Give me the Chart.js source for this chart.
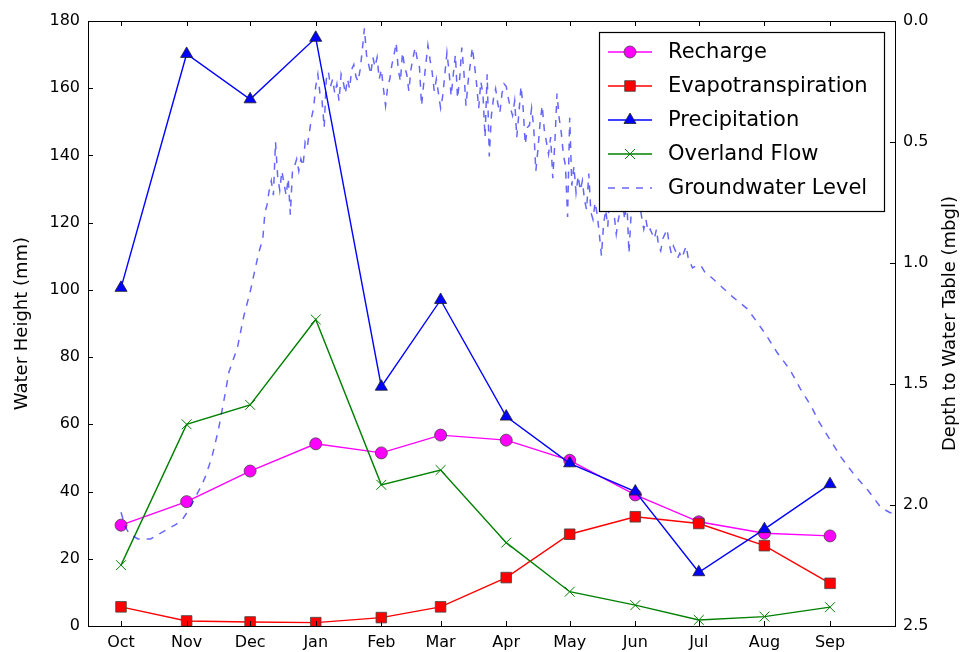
<!DOCTYPE html>
<html>
<head>
<meta charset="utf-8">
<script src="https://cdn.jsdelivr.net/npm/chart.js@4.4.1/dist/chart.umd.min.js"></script>
<style>
  body { margin: 0; background: #fff; }
  canvas { display: block; }
</style>
</head>
<body>
<canvas id="myChart" width="963" height="652"></canvas>
<script>
// monthly values, plotted at the first day of each month (days since 1 Oct)
var months = ['Oct', 'Nov', 'Dec', 'Jan', 'Feb', 'Mar', 'Apr', 'May', 'Jun', 'Jul', 'Aug', 'Sep']
var monthDay = [0, 31, 61, 92, 123, 151, 182, 212, 243, 273, 304, 335]

var recharge = [30, 37, 46.1, 54.2, 51.5, 56.8, 55.3, 49.3, 39.0, 31.0, 27.6, 26.8]
var evapotranspiration = [5.7, 1.5, 1.2, 1.0, 2.5, 5.7, 14.4, 27.3, 32.5, 30.5, 23.9, 12.7]
var precipitation = [100.6, 170.2, 156.7, 175, 71.2, 97, 62.3, 48.4, 40, 16, 28.8, 42.2]
var overlandFlow = [18.1, 60, 65.8, 91.2, 42, 46.4, 24.8, 10.2, 6.2, 1.8, 2.8, 5.6]

// daily groundwater depth (mbgl)
var gwDay = [0, 2, 4, 8, 14, 18, 22, 26, 29, 32, 35, 38, 40, 43, 46, 49, 51, 55, 58, 61, 63, 65, 67, 68, 69,
  70, 71, 72, 73, 74, 75, 76, 77, 78, 79, 80, 81, 82, 83, 84, 85, 86, 87, 88, 89,
  90, 91, 92, 93, 94, 95, 96, 97, 98, 99, 100, 101, 102, 103, 104, 105, 106, 107, 108, 109,
  110, 111, 112, 113, 114, 115, 116, 117, 118, 119, 120, 121, 122, 123, 124, 125, 126, 127, 128, 129,
  130, 131, 132, 133, 134, 135, 136, 137, 138, 139, 140, 141, 142, 143, 144, 145, 146, 147, 148, 149,
  150, 151, 152, 153, 154, 155, 156, 157, 158, 159, 160, 161, 162, 163, 164, 165, 166, 167, 168, 169,
  170, 171, 172, 173, 174, 175, 176, 177, 178, 179, 180, 181, 182, 183, 184, 185, 186, 187, 188, 189,
  190, 191, 192, 193, 194, 195, 196, 197, 198, 199, 200, 201, 202, 203, 204, 205, 206, 207, 208, 209,
  210, 211, 212, 213, 214, 215, 216, 217, 218, 219, 220, 221, 222, 223, 224, 225, 226, 227, 228, 229,
  230, 231, 232, 233, 234, 235, 236, 237, 238, 239, 240, 241, 242, 243, 244, 245, 246, 247, 248, 249,
  250, 251, 252, 253, 254, 255, 256, 257, 258, 259, 260, 261, 262, 263, 264, 265,
  267, 268, 270, 272, 274, 276, 279, 284, 289, 296, 301, 305, 310, 316, 321, 326, 330, 335, 340, 346, 353, 359, 363, 366]
var gwDepth = [2.03, 2.09, 2.12, 2.14, 2.14, 2.12, 2.10, 2.08, 2.06, 2.02, 1.97, 1.92, 1.88, 1.80, 1.69, 1.55, 1.45, 1.35, 1.22, 1.12, 1.04, 0.96, 0.90, 0.79, 0.76,
  0.70, 0.66, 0.72, 0.50, 0.64, 0.70, 0.62, 0.67, 0.72, 0.65, 0.80, 0.62, 0.60, 0.57, 0.62, 0.57, 0.60, 0.50, 0.52, 0.46,
  0.40, 0.36, 0.27, 0.22, 0.30, 0.33, 0.44, 0.24, 0.21, 0.27, 0.24, 0.30, 0.26, 0.33, 0.22, 0.25, 0.30, 0.24, 0.28, 0.20,
  0.18, 0.23, 0.25, 0.20, 0.12, 0.03, 0.14, 0.18, 0.22, 0.15, 0.19, 0.15, 0.24, 0.20, 0.28, 0.35, 0.27, 0.24, 0.18, 0.14,
  0.09, 0.20, 0.25, 0.13, 0.19, 0.22, 0.29, 0.20, 0.15, 0.11, 0.16, 0.19, 0.35, 0.26, 0.18, 0.10, 0.16, 0.21, 0.29, 0.24,
  0.30, 0.36, 0.31, 0.22, 0.13, 0.21, 0.31, 0.22, 0.14, 0.32, 0.24, 0.11, 0.21, 0.35, 0.25, 0.18, 0.11, 0.18, 0.26, 0.36,
  0.25, 0.30, 0.48, 0.22, 0.56, 0.39, 0.32, 0.28, 0.34, 0.38, 0.30, 0.26, 0.27, 0.32, 0.36, 0.39, 0.33, 0.48, 0.38, 0.27,
  0.36, 0.51, 0.44, 0.43, 0.36, 0.44, 0.62, 0.53, 0.42, 0.35, 0.45, 0.50, 0.55, 0.48, 0.65, 0.50, 0.30, 0.40, 0.46, 0.55,
  0.60, 0.81, 0.40, 0.68, 0.60, 0.71, 0.64, 0.70, 0.66, 0.74, 0.78, 0.63, 0.79, 0.82, 0.75, 0.80, 0.88, 0.97, 0.84, 0.78,
  0.85, 0.69, 0.66, 0.80, 0.88, 0.82, 0.78, 0.75, 0.82, 0.74, 0.96, 0.80, 0.74, 0.71, 0.76, 0.75, 0.81, 0.86, 0.82, 0.87,
  0.86, 0.88, 0.90, 0.86, 0.93, 0.95, 0.90, 0.88, 0.86, 0.92, 0.96, 0.93, 0.95, 0.98, 0.96, 0.98,
  0.93, 0.98, 1.02, 1.01, 1.01, 1.04, 1.06, 1.10, 1.14, 1.19, 1.25, 1.30, 1.37, 1.44, 1.52, 1.59, 1.66, 1.73, 1.80, 1.87, 1.94, 2.01, 2.03, 2.04]

var leftTicks = [0, 20, 40, 60, 80, 100, 120, 140, 160, 180]
var rightTicks = [0, 0.5, 1.0, 1.5, 2.0, 2.5]

var FONT = 'DejaVu Sans'
Chart.defaults.font.family = FONT
Chart.defaults.color = '#000'

function monthly(values) {
  return monthDay.map((d, i) => ({ x: d, y: values[i] }))
}

// matplotlib-like frame with inward ticks on every side
var framePlugin = {
  id: 'frame',
  afterDatasetsDraw(chart) {
    var ctx = chart.ctx
    var a = chart.chartArea
    var sx = chart.scales.x, sy = chart.scales.y, sy2 = chart.scales.y2
    var len = 5
    ctx.save()
    ctx.strokeStyle = '#000'
    ctx.lineWidth = 1
    ctx.beginPath()
    sx.ticks.forEach(t => {
      var px = Math.round(sx.getPixelForValue(t.value)) + 0.5
      ctx.moveTo(px, a.bottom); ctx.lineTo(px, a.bottom - len)
      ctx.moveTo(px, a.top); ctx.lineTo(px, a.top + len)
    })
    sy.ticks.forEach(t => {
      var py = Math.round(sy.getPixelForValue(t.value)) + 0.5
      ctx.moveTo(a.left, py); ctx.lineTo(a.left + len, py)
    })
    sy2.ticks.forEach(t => {
      var py = Math.round(sy2.getPixelForValue(t.value)) + 0.5
      ctx.moveTo(a.right, py); ctx.lineTo(a.right - len, py)
    })
    ctx.stroke()
    ctx.strokeRect(Math.round(a.left) + 0.5, Math.round(a.top) + 0.5, Math.round(a.right - a.left), Math.round(a.bottom - a.top))

    // right axis title, reading bottom to top
    ctx.fillStyle = '#000'
    ctx.font = '18px ' + FONT
    ctx.textAlign = 'center'
    ctx.textBaseline = 'middle'
    ctx.translate(950, (a.top + a.bottom) / 2)
    ctx.rotate(-Math.PI / 2)
    ctx.fillText('Depth to Water Table (mbgl)', 0, 0)
    ctx.restore()
  }
}

// legend box inside the plot, upper right
var legendPlugin = {
  id: 'mplLegend',
  afterDatasetsDraw(chart) {
    var ctx = chart.ctx
    var a = chart.chartArea
    var w = 285, h = 179
    var x0 = a.right - 11 - w, y0 = a.top + 11
    ctx.save()
    ctx.fillStyle = '#fff'
    ctx.fillRect(x0, y0, w, h)
    ctx.strokeStyle = '#000'
    ctx.lineWidth = 1.2
    ctx.strokeRect(x0 + 0.5, y0 + 0.5, w, h)
    chart.data.datasets.forEach((ds, i) => {
      var y = y0 + 20 + i * 34
      ctx.strokeStyle = ds.borderColor
      ctx.lineWidth = ds.borderWidth
      ctx.setLineDash(ds.borderDash || [])
      ctx.beginPath()
      ctx.moveTo(x0 + 9, y); ctx.lineTo(x0 + 53, y)
      ctx.stroke()
      ctx.setLineDash([])
      if (ds.pointRadius > 0) {
        ctx.fillStyle = ds.pointBackgroundColor
        ctx.strokeStyle = ds.pointBorderColor
        ctx.lineWidth = ds.pointBorderWidth
        Chart.helpers.drawPoint(ctx, { pointStyle: ds.pointStyle, radius: ds.pointRadius, rotation: 0, borderWidth: ds.pointBorderWidth }, x0 + 31, y)
      }
      ctx.fillStyle = '#000'
      ctx.font = '21px ' + FONT
      ctx.textAlign = 'left'
      ctx.textBaseline = 'middle'
      ctx.fillText(ds.label, x0 + 69, y + 1)
    })
    ctx.restore()
  }
}

var ctx = document.getElementById('myChart').getContext('2d')
var myChart = new Chart(ctx, {
  type: 'line',
  data: {
    datasets: [{
        label: 'Recharge',
        data: monthly(recharge),
        borderColor: '#ff00ff',
        backgroundColor: '#ff00ff',
        pointBackgroundColor: '#ff00ff',
        pointBorderColor: '#444',
        pointBorderWidth: 0.8,
        pointStyle: 'circle',
        pointRadius: 6,
        borderWidth: 1.4,
        yAxisID: 'y',
        order: 5
    },
    {
        label: 'Evapotranspiration',
        data: monthly(evapotranspiration),
        borderColor: '#ff0000',
        backgroundColor: '#ff0000',
        pointBackgroundColor: '#ff0000',
        pointBorderColor: '#444',
        pointBorderWidth: 0.8,
        pointStyle: 'rect',
        pointRadius: 7.5,
        borderWidth: 1.4,
        yAxisID: 'y',
        order: 4
    },
    {
        label: 'Precipitation',
        data: monthly(precipitation),
        borderColor: '#0000ff',
        backgroundColor: '#0000ff',
        pointBackgroundColor: '#0000ff',
        pointBorderColor: '#222',
        pointBorderWidth: 0.8,
        pointStyle: 'triangle',
        pointRadius: 7,
        borderWidth: 1.4,
        yAxisID: 'y',
        order: 3
    },
    {
        label: 'Overland Flow',
        data: monthly(overlandFlow),
        borderColor: '#008000',
        backgroundColor: '#008000',
        pointBackgroundColor: '#008000',
        pointBorderColor: '#008000',
        pointBorderWidth: 1,
        pointStyle: 'crossRot',
        pointRadius: 7,
        borderWidth: 1.4,
        yAxisID: 'y',
        order: 2
    },
    {
        label: 'Groundwater Level',
        data: gwDay.map((d, i) => ({ x: d, y: gwDepth[i] })),
        borderColor: 'rgba(0, 0, 255, 0.6)',
        backgroundColor: 'rgba(0, 0, 255, 0.6)',
        borderDash: [7, 7],
        borderWidth: 1.5,
        pointRadius: 0,
        yAxisID: 'y2',
        order: 1
    }]
  },
  options: {
    responsive: false,
    animation: false,
    events: [],
    elements: { line: { tension: 0 } },
    layout: { padding: { top: 21, left: 0, right: 0, bottom: 0 } },
    plugins: { legend: { display: false }, tooltip: { enabled: false } },
    scales: {
      x: {
        type: 'linear',
        min: -15.6,
        max: 365.7,
        grid: { display: false, drawTicks: false },
        border: { display: false },
        afterBuildTicks: scale => { scale.ticks = monthDay.map(v => ({ value: v })) },
        ticks: {
          autoSkip: false,
          maxRotation: 0,
          padding: 7,
          font: { size: 16 },
          callback: v => months[monthDay.indexOf(v)]
        },
        afterFit: scale => { scale.height = 26 }
      },
      y: {
        position: 'left',
        min: 0,
        max: 180,
        grid: { display: false, drawTicks: false },
        border: { display: false },
        afterBuildTicks: scale => { scale.ticks = leftTicks.map(v => ({ value: v })) },
        ticks: { padding: 8, font: { size: 16 } },
        title: { display: true, text: 'Water Height (mm)', font: { size: 18 }, padding: { top: 12, bottom: 0 } },
        afterFit: scale => { scale.width = 88 }
      },
      y2: {
        position: 'right',
        min: 0,
        max: 2.5,
        reverse: true,
        grid: { display: false, drawTicks: false },
        border: { display: false },
        afterBuildTicks: scale => { scale.ticks = rightTicks.map(v => ({ value: v })) },
        ticks: { padding: 8, font: { size: 16 }, callback: v => v.toFixed(1) },
        afterFit: scale => { scale.width = 68 }
      }
    }
  },
  plugins: [framePlugin, legendPlugin]
})
</script>
</body>
</html>
